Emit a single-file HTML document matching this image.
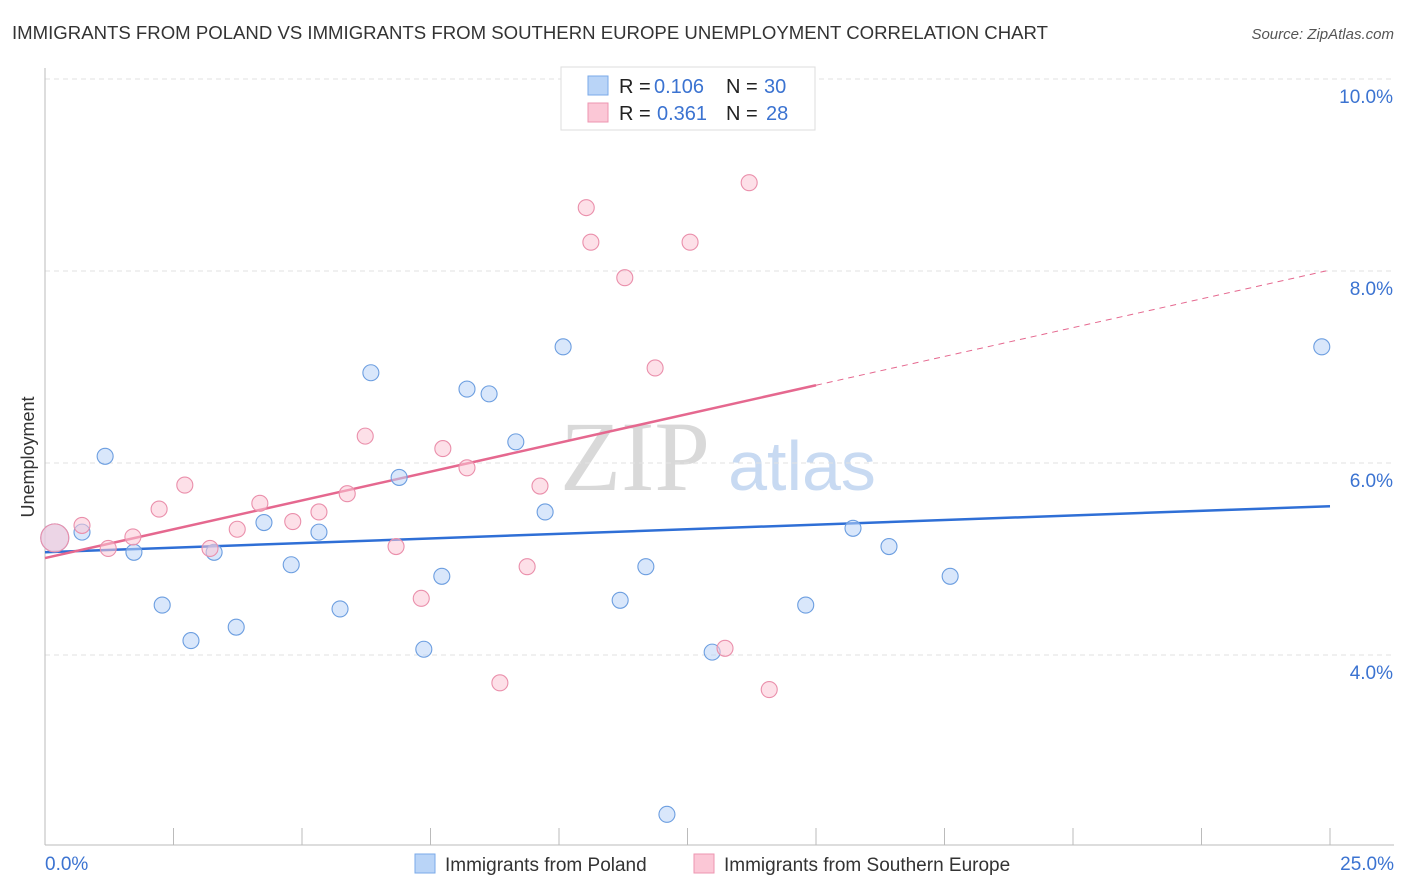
<!DOCTYPE html>
<html><head><meta charset="utf-8"><style>
body{margin:0;background:#fff;font-family:"Liberation Sans",sans-serif;}
svg{display:block}
</style></head><body>
<svg id="chart" width="1406" height="892" xmlns="http://www.w3.org/2000/svg">
<text x="12" y="39" font-size="18" fill="#333" textLength="1036" lengthAdjust="spacingAndGlyphs">IMMIGRANTS FROM POLAND VS IMMIGRANTS FROM SOUTHERN EUROPE UNEMPLOYMENT CORRELATION CHART</text>
<text x="1394" y="39" font-size="15" font-style="italic" fill="#555" text-anchor="end">Source: ZipAtlas.com</text>
<text x="34" y="457" font-size="18" fill="#333" text-anchor="middle" transform="rotate(-90 34 457)">Unemployment</text>
<g>
<text x="635" y="490" font-size="100" font-family="Liberation Serif,serif" fill="#d9d9d9" text-anchor="middle">ZIP</text>
<text x="802" y="490" font-size="70" fill="#c8daf2" text-anchor="middle">atlas</text>
</g>
<g id="grid"></g><g id="axes"></g><g id="lines"></g><g id="pts"></g>
<g>
<rect x="561" y="67" width="254" height="63" fill="#fff" stroke="#ddd"/>
<rect x="588" y="76" width="20" height="19" fill="#b9d4f7" stroke="#7aaae8"/>
<rect x="588" y="103" width="20" height="19" fill="#fbc7d6" stroke="#ee96b0"/>
<text x="619" y="93" font-size="20" fill="#222">R =</text>
<text x="654" y="93" font-size="20" fill="#3b73d1">0.106</text>
<text x="726" y="93" font-size="20" fill="#222">N =</text>
<text x="764" y="93" font-size="20" fill="#3b73d1">30</text>
<text x="619" y="120" font-size="20" fill="#222">R =</text>
<text x="657" y="120" font-size="20" fill="#3b73d1">0.361</text>
<text x="726" y="120" font-size="20" fill="#222">N =</text>
<text x="766" y="120" font-size="20" fill="#3b73d1">28</text>
</g>
<g>
<rect x="415" y="854" width="20" height="19" fill="#b9d4f7" stroke="#7aaae8"/>
<text x="445" y="871" font-size="19" fill="#333">Immigrants from Poland</text>
<rect x="694" y="854" width="20" height="19" fill="#fbc7d6" stroke="#ee96b0"/>
<text x="724" y="871" font-size="19" fill="#333">Immigrants from Southern Europe</text>
</g>
</svg>
<script>
const yTicks=[4,6,8,10];
const yTickLabels=["4.0%","6.0%","8.0%","10.0%"];
const xTickCount=[0,2.5,5,7.5,10,12.5,15,17.5,20,22.5,25];
const polandX=[0.19,0.72,1.17,1.73,2.28,2.84,3.29,3.72,4.26,4.79,5.33,5.74,6.34,6.89,7.37,7.72,8.21,8.64,9.16,9.73,10.08,11.19,11.69,12.10,12.98,14.80,15.72,16.42,17.61,24.84];
const polandY=[5.22,5.28,6.07,5.07,4.52,4.15,5.07,4.29,5.38,4.94,5.28,4.48,6.94,5.85,4.06,4.82,6.77,6.72,6.22,5.49,7.21,4.57,4.92,2.34,4.03,4.52,5.32,5.13,4.82,7.21];
const seX=[0.19,0.72,1.23,1.71,2.22,2.72,3.21,3.74,4.18,4.82,5.33,5.88,6.23,6.83,7.32,7.74,8.21,8.85,9.38,9.63,10.53,10.62,11.28,11.87,12.55,13.23,13.70,14.09];
const seY=[5.22,5.35,5.11,5.23,5.52,5.77,5.11,5.31,5.58,5.39,5.49,5.68,6.28,5.13,4.59,6.15,5.95,3.71,4.92,5.76,8.66,8.30,7.93,6.99,8.30,4.07,8.92,3.64];
const polandLine=[5.07,5.55];
const seLine=[5.01,8.01];
const seSolidEnd=15;
const NS="http://www.w3.org/2000/svg";
const X=v=>45+v/25*1285, Y=v=>1039-v*96;
function mk(parent,tag,attrs){const e=document.createElementNS(NS,tag);for(const k in attrs)e.setAttribute(k,attrs[k]);document.getElementById(parent).appendChild(e);return e;}
yTicks.forEach((t,i)=>{
 const g=mk('grid','line',{x1:45,x2:1394,y1:Y(t),y2:Y(t),stroke:'#e2e2e2','stroke-dasharray':'5,4'});
 
 
 const l=mk('axes','text',{x:1393,y:Y(t)+24,'font-size':19,fill:'#3b73d1','text-anchor':'end'});
 l.textContent=yTickLabels[i];
 
 
});
const tg=mk('grid','line',{x1:45,x2:1394,y1:79,y2:79,stroke:'#e2e2e2','stroke-dasharray':'5,4'});


const xa=mk('axes','line',{x1:45,x2:1394,y1:845,y2:845,stroke:'#bbb'});


const ya=mk('axes','line',{x1:45,x2:45,y1:68,y2:845,stroke:'#bbb'});


xTickCount.forEach(t=>{
 const k=mk('axes','line',{x1:X(t),x2:X(t),y1:828,y2:845,stroke:'#bbb'});
 
 
});
[[0,"0.0%","start",45],[25,"25.0%","end",1394]].forEach(a=>{
 const l=mk('axes','text',{x:a[3],y:870,'font-size':19,fill:'#3b73d1','text-anchor':a[2]});
 l.textContent=a[1];
 
 
});
function pts(xs,ys,fill,stroke,name){
 xs.forEach((x,i)=>{
  const c=mk('pts','circle',{cx:X(x),cy:Y(ys[i]),r:i===0?14:8,fill:fill,'fill-opacity':0.55,stroke:stroke,'stroke-width':1.1});
  
  
 });
}
pts(polandX,polandY,'#b9d4f7','#6c9ee0','poland-point');
pts(seX,seY,'#fbc7d6','#ea8fab','southern-europe-point');
const bl=mk('lines','line',{x1:X(0),y1:Y(polandLine[0]),x2:X(25),y2:Y(polandLine[1]),stroke:'#2f6fd6','stroke-width':2.5});


const sm=seLine[0]+(seLine[1]-seLine[0])*seSolidEnd/25;
const pl=mk('lines','line',{x1:X(0),y1:Y(seLine[0]),x2:X(seSolidEnd),y2:Y(sm),stroke:'#e5688f','stroke-width':2.5});


const pd=mk('lines','line',{x1:X(seSolidEnd),y1:Y(sm),x2:X(25),y2:Y(seLine[1]),stroke:'#e5688f','stroke-width':1,'stroke-dasharray':'6,5'});


</script>
</body></html>
